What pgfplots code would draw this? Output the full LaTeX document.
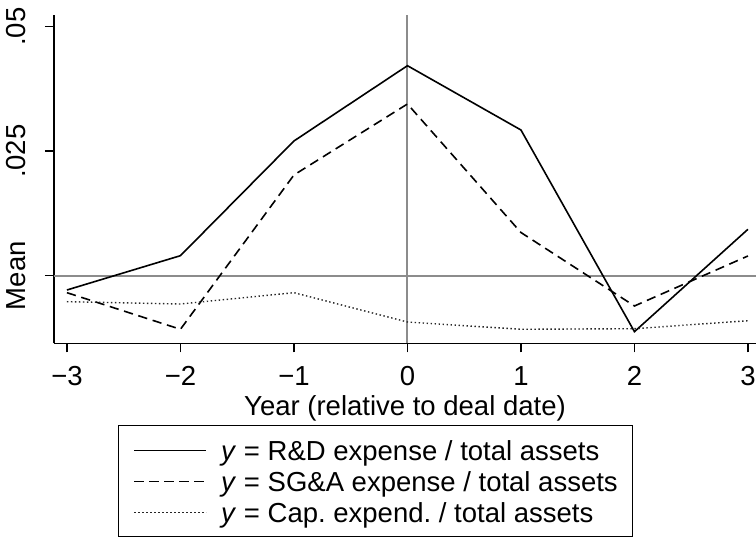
\documentclass[border=0pt]{standalone}
\usepackage{fontspec}
\setmainfont{Liberation Sans}
\usepackage{pgfplots}
\pgfplotsset{compat=1.18}
\frenchspacing

\newcommand\chartfont{\fontsize{27.5bp}{32bp}\selectfont}
\newcommand\rowstrut{\rule[-2.4bp]{0pt}{24.4bp}}
\newcommand\laststrut{\rule[-30bp]{0pt}{52bp}}
\definecolor{refgray}{RGB}{140,140,140}

% Mean of each ratio by year relative to the deal date
\pgfplotstableread{
year  rd        sga       capex
-3   -0.00287  -0.00341  -0.00522
-2    0.00402  -0.01076  -0.00568
-1    0.02705   0.02022  -0.00341
 0    0.04217   0.03448  -0.00930
 1    0.02926   0.00867  -0.01076
 2   -0.01124  -0.00608  -0.01064
 3    0.00932   0.00396  -0.00904
}\meanratios

\begin{document}
\begin{tikzpicture}[x=1bp,y=1bp]
\begin{axis}[
  at={(54bp,198.7bp)}, anchor=south west,
  scale only axis, width=702bp, height=328.3bp,
  xmin=-3.114, xmax=3.071, ymin=-0.013574, ymax=0.052349,
  axis x line*=bottom, axis y line*=left,
  axis line style={line width=1.5bp, black},
  xtick={-3,-2,-1,0,1,2,3},
  xticklabels={−3,−2,−1,0,1,2,3},
  ytick={0,0.025,0.05},
  yticklabels={Mean,.025,.05},
  scaled y ticks=false,
  tick align=outside, major tick length=9bp,
  tick style={line width=1.5bp, black},
  xticklabel style={anchor=base, inner sep=0pt, yshift=-33.3bp, font=\chartfont},
  yticklabel style={xshift=-19bp, rotate=90, anchor=south, inner sep=0pt, font=\chartfont},
  xlabel={Year (relative to deal date)},
  xlabel style={at={(axis description cs:0.5,-0.2184)}, anchor=base, inner sep=0pt, font=\chartfont},
  legend style={
    at={(axis description cs:0.0912,-0.2489)}, anchor=north west,
    draw=black, line width=1.2bp, inner xsep=15bp, inner ysep=12.8bp,
    font=\chartfont, cells={anchor=base west},
    row sep=7.3bp, column sep=14bp,
    nodes={inner sep=0pt},
  },
  legend image code/.code={\draw[#1] (0bp,9.8bp) -- (72bp,9.8bp);},
]
% reference lines at zero
\draw[refgray, line width=2bp] (axis cs:0,-0.013574) -- (axis cs:0,0.052349);
\draw[refgray, line width=2bp] (axis cs:-3.114,0) -- (axis cs:3.071,0);

\addplot[black, line width=1.6bp] table[x=year, y=rd] {\meanratios};
\addlegendentry{\rowstrut\textit{y} = R\&D expense / total assets}
\addplot[black, line width=1.6bp, dash pattern=on 9.3bp off 5.7bp] table[x=year, y=sga] {\meanratios};
\addlegendentry{\rowstrut\textit{y} = SG\&A expense / total assets}
\addplot[black!85, line width=1.4bp, dash pattern=on 1.4bp off 2.6bp] table[x=year, y=capex] {\meanratios};
\addlegendentry{\laststrut\textit{y} = Cap. expend. / total assets}
\end{axis}
\pgfresetboundingbox
\useasboundingbox (0bp,0bp) rectangle (756bp,542bp);
\end{tikzpicture}
\end{document}
